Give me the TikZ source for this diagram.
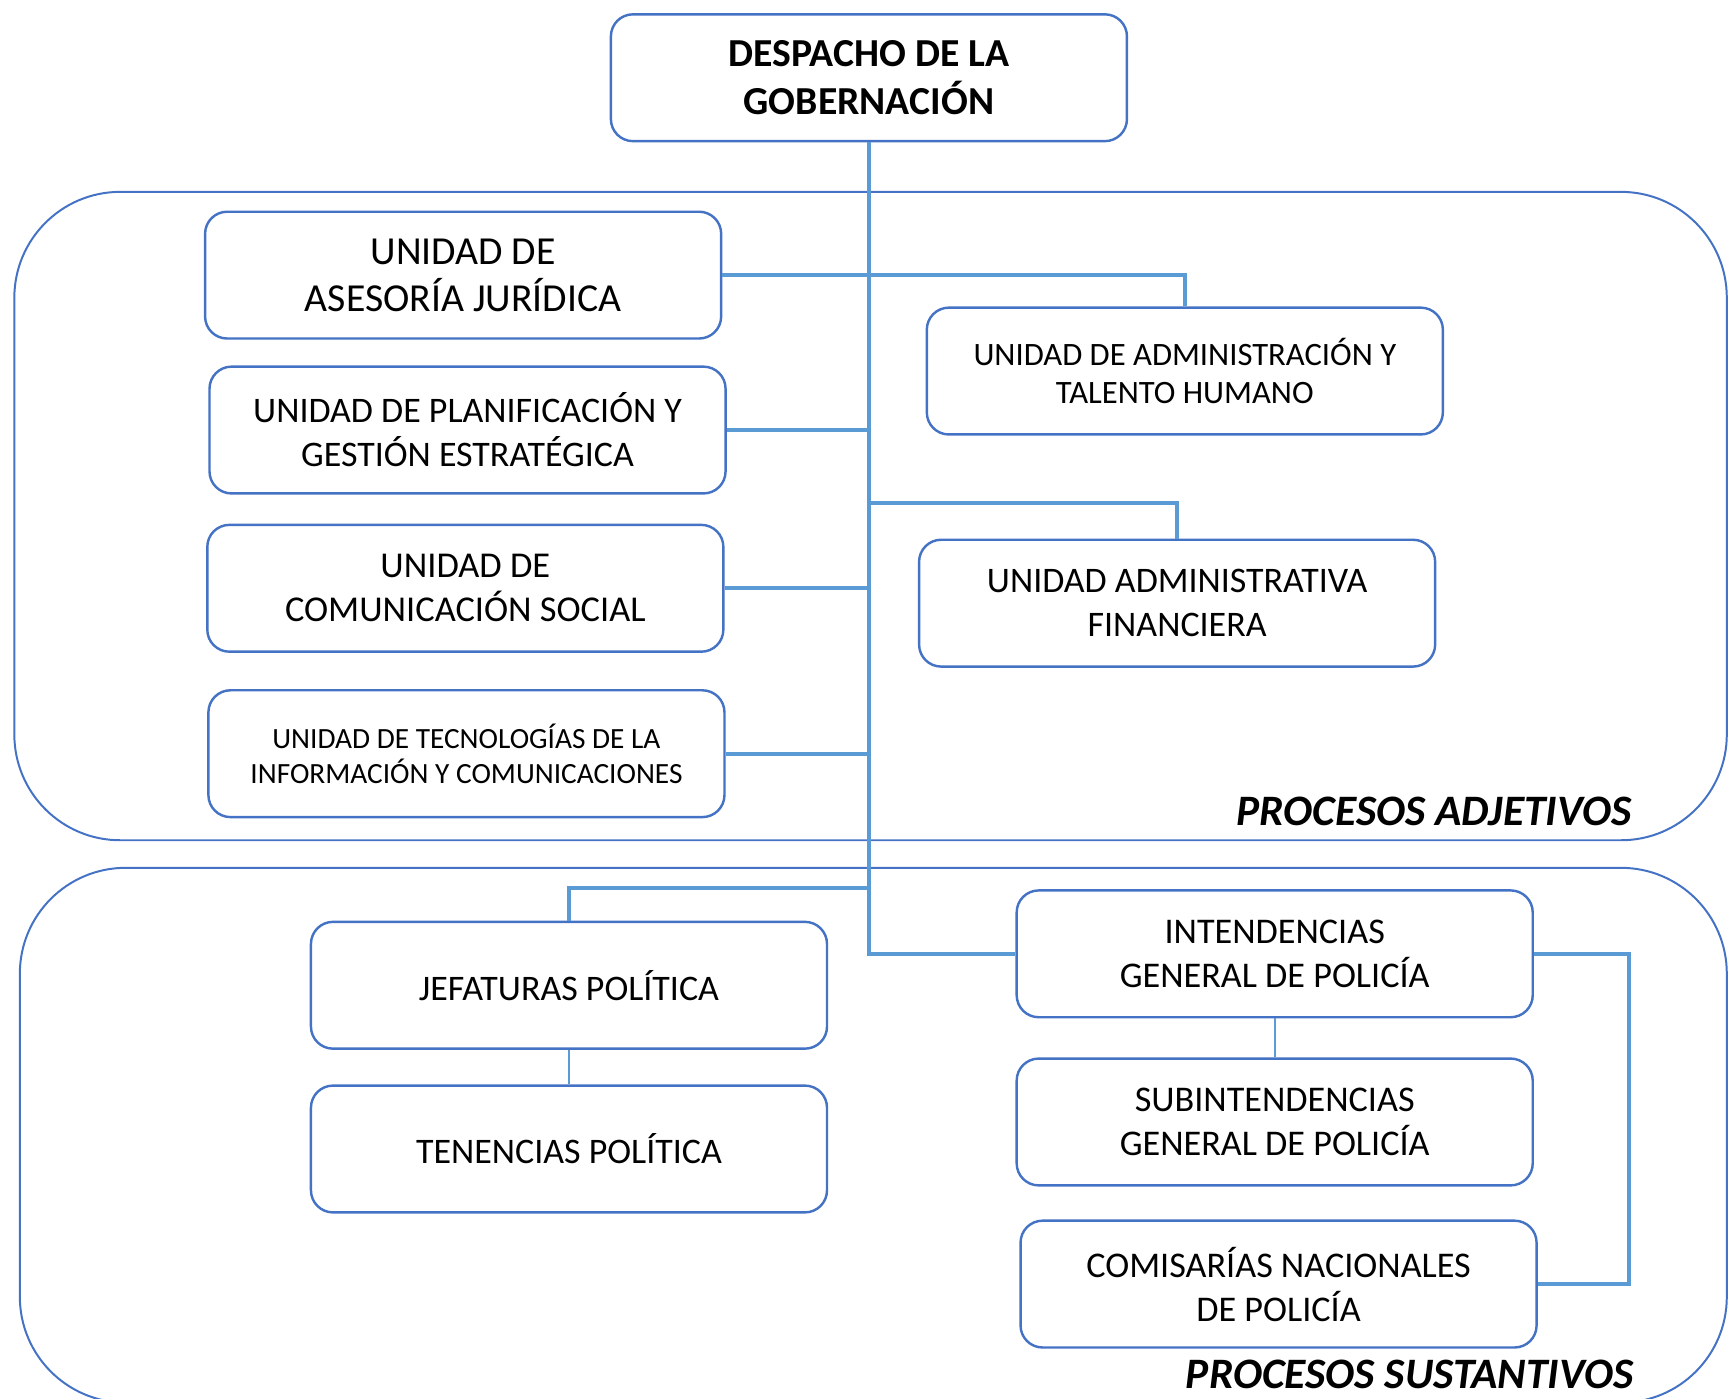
\documentclass[tikz,border=0pt]{standalone}
\usepackage{fontspec}
\setmainfont{Carlito}
\definecolor{boxblue}{HTML}{4472C4}
\definecolor{linkblue}{HTML}{5B9BD5}
\tikzset{
  orgbox/.style={draw=boxblue, line width=1.1pt, rounded corners=10pt, minimum width=234pt, minimum height=57.5pt, inner sep=0pt, align=center, text=black},
  group/.style={draw=boxblue, line width=0.9pt, rounded corners=48pt},
  link/.style={draw=linkblue, line width=1.8pt},
  thinlink/.style={draw=linkblue, line width=1.1pt},
  grouplabel/.style={font={\fontsize{19.7}{22}\selectfont\bfseries\itshape}, anchor=east, inner sep=0pt}
}
\begin{document}
\begin{tikzpicture}[x=0.5pt, y=-0.5pt]
\useasboundingbox (0,0) rectangle (1568,1268);
% containers
\draw[group] (13,174) rectangle (1566,762);
\draw[group] (18,787) rectangle (1566,1272);
\node[grouplabel] (ladj) at (1480,736) {PROCESOS ADJETIVOS};
\node[grouplabel] (lsus) at (1482,1246) {PROCESOS SUSTANTIVOS};
% boxes
\node[orgbox, font={\fontsize{18}{22}\selectfont\bfseries}] (desp) at (788,70.5) {DESPACHO DE LA\\GOBERNACIÓN};
\node[orgbox, font={\fontsize{18}{21.5}\selectfont}] (ases) at (420,249.5) {UNIDAD DE\\ASESORÍA JURÍDICA};
\node[orgbox, font={\fontsize{16.3}{20}\selectfont}] (plan) at (424,390) {UNIDAD DE PLANIFICACIÓN Y\\GESTIÓN ESTRATÉGICA};
\node[orgbox, font={\fontsize{16.5}{20}\selectfont}] (comu) at (422,533.5) {UNIDAD DE\\COMUNICACIÓN SOCIAL};
\node[orgbox, font={\fontsize{13.3}{16}\selectfont}] (tecn) at (423,683.5) {UNIDAD DE TECNOLOGÍAS DE LA\\INFORMACIÓN Y COMUNICACIONES};
\node[orgbox, font={\fontsize{14.8}{17.5}\selectfont}] (admi) at (1074.5,336.5) {UNIDAD DE ADMINISTRACIÓN Y\\TALENTO HUMANO};
\node[orgbox, font={\fontsize{16.3}{20}\selectfont}] (fina) at (1067.5,547) {UNIDAD ADMINISTRATIVA\\FINANCIERA};
\node[orgbox, font={\fontsize{16.3}{20}\selectfont}] (jefa) at (516,893.5) {JEFATURAS POLÍTICA};
\node[orgbox, font={\fontsize{16.3}{20}\selectfont}] (tene) at (516,1042) {TENENCIAS POLÍTICA};
\node[orgbox, font={\fontsize{16.4}{20}\selectfont}] (inte) at (1156,865) {INTENDENCIAS\\GENERAL DE POLICÍA};
\node[orgbox, font={\fontsize{16.4}{20}\selectfont}] (subi) at (1156,1017.5) {SUBINTENDENCIAS\\GENERAL DE POLICÍA};
\node[orgbox, font={\fontsize{16.4}{20}\selectfont}] (comi) at (1159.5,1164.5) {COMISARÍAS NACIONALES\\DE POLICÍA};
% trunk coordinates
\coordinate (tk) at (788,865);
\coordinate (tf) at (788,456);
\coordinate (tj) at (788,805);
% connectors
\draw[link] (desp.south) -- (tk) -- (inte.west);
\draw[link] (ases.east) -| (admi.north);
\draw[link] (plan.east) -- (plan.east -| tk);
\draw[link] (comu.east) -- (comu.east -| tk);
\draw[link] (tecn.east) -- (tecn.east -| tk);
\draw[link] (tf) -| (fina.north);
\draw[link] (tj) -| (jefa.north);
\draw[thinlink] (jefa.south) -- (tene.north);
\draw[thinlink] (inte.south) -- (subi.north);
\draw[link] (inte.east) -- ++(86,0) |- (comi.east);
\end{tikzpicture}
\end{document}
